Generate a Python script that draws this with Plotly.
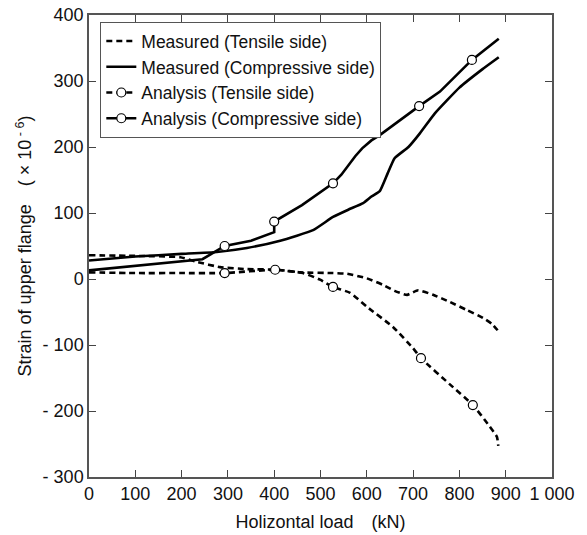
import plotly.graph_objects as go

# Measured (Tensile side)
mt_x = [0, 100, 197, 233, 283, 341, 406, 456, 527, 557, 600, 635, 660, 687, 711, 743, 780, 816, 851, 870, 888]
mt_y = [36, 35, 33, 26, 18, 15, 14, 10, 9, 8, 1, -9, -18, -24, -17, -24, -35, -47, -59, -68, -82]

# Measured (Compressive side)
mc_x = [0, 100, 200, 276, 341, 413, 484, 527, 560, 592, 610, 628, 645, 660, 690, 715, 747, 800, 850, 885]
mc_y = [28, 34, 38, 41, 47, 58, 74, 94, 105, 115, 125, 133, 160, 183, 200, 221, 251, 290, 318, 336]

# Analysis (Tensile side)
at_x = [0, 100, 200, 293, 402, 462, 499, 527, 564, 600, 657, 700, 717, 780, 829, 866, 881, 884]
at_y = [10, 9, 9, 9, 14, 9, -1, -12, -21, -42, -73, -105, -120, -160, -191, -224, -239, -253]
at_mx = [293, 402, 527, 717, 829]
at_my = [9, 14, -12, -120, -191]

# Analysis (Compressive side)
ac_x = [0, 100, 200, 245, 293, 350, 400, 400, 460, 527, 545, 560, 575, 590, 610, 628, 660, 690, 713, 758, 801, 827, 885]
ac_y = [13, 20, 26, 30, 50, 58, 71, 87, 112, 145, 158, 172, 186, 198, 210, 218, 235, 250, 262, 284, 314, 332, 364]
ac_mx = [293, 400, 527, 713, 827]
ac_my = [50, 87, 145, 262, 332]

x_ticks = [0, 100, 200, 300, 400, 500, 600, 700, 800, 900, 1000]
x_labels = ["0", "100", "200", "300", "400", "500", "600", "700", "800", "900", "1 000"]
y_ticks = [-300, -200, -100, 0, 100, 200, 300, 400]
y_labels = ["- 300", "- 200", "- 100", "0", "100", "200", "300", "400"]

DASH = "6px,4px"
LW = 2.6
FS = 18
mk = dict(symbol="circle", size=9, color="white", line=dict(color="black", width=1.2))

fig = go.Figure()
fig.add_trace(go.Scatter(x=mt_x, y=mt_y, mode="lines", name="Measured (Tensile side)",
                         line=dict(color="black", width=LW, dash=DASH, shape="spline", smoothing=0.5)))
fig.add_trace(go.Scatter(x=mc_x, y=mc_y, mode="lines", name="Measured (Compressive side)",
                         line=dict(color="black", width=LW, shape="spline", smoothing=0.4)))
fig.add_trace(go.Scatter(x=at_x, y=at_y, mode="lines", showlegend=False, legendgroup="at",
                         line=dict(color="black", width=LW, dash=DASH, shape="spline", smoothing=0.5)))
fig.add_trace(go.Scatter(x=at_mx, y=at_my, mode="markers", showlegend=False, legendgroup="at",
                         marker=mk))
fig.add_trace(go.Scatter(x=[None], y=[None], mode="lines+markers", name="Analysis (Tensile side)",
                         legendgroup="at", line=dict(color="black", width=LW, dash=DASH), marker=mk))
fig.add_trace(go.Scatter(x=ac_x, y=ac_y, mode="lines", showlegend=False, legendgroup="ac",
                         line=dict(color="black", width=LW)))
fig.add_trace(go.Scatter(x=ac_mx, y=ac_my, mode="markers", showlegend=False, legendgroup="ac",
                         marker=mk))
fig.add_trace(go.Scatter(x=[None], y=[None], mode="lines+markers", name="Analysis (Compressive side)",
                         legendgroup="ac", line=dict(color="black", width=LW), marker=mk))

axis_common = dict(showgrid=False, zeroline=False, showline=True, linecolor="#555555", linewidth=1.5,
                   mirror="ticks", ticks="inside", ticklen=7, tickcolor="#444444", tickwidth=1,
                   automargin=False, ticklabeloverflow="allow",
                   tickfont=dict(family="Liberation Sans, Arial", size=FS, color="#111"))

fig.update_layout(
    width=587, height=535,
    margin=dict(l=89, r=35, t=15, b=58),
    plot_bgcolor="white", paper_bgcolor="white",
    font=dict(family="Liberation Sans, Arial", size=FS, color="#111"),
    xaxis=dict(range=[0, 1000], tickvals=x_ticks, ticktext=x_labels,
               title=dict(text="Holizontal load　(kN)", standoff=12, font=dict(size=FS)), **axis_common),
    yaxis=dict(range=[-300, 400], tickvals=y_ticks, ticktext=y_labels,
               title=dict(text="Strain of upper flange　( × 10<sup> - 6</sup>)", standoff=6, font=dict(size=FS)),
               **axis_common),
    legend=dict(x=0.024, y=0.985, xanchor="left", yanchor="top", bgcolor="white",
                bordercolor="#555555", borderwidth=1.2, font=dict(size=17.5),
                tracegroupgap=0, itemwidth=30, traceorder="normal"),
)

fig.write_html("out.html", config={"displayModeBar": False},
               post_script="document.body.style.margin='0';")
